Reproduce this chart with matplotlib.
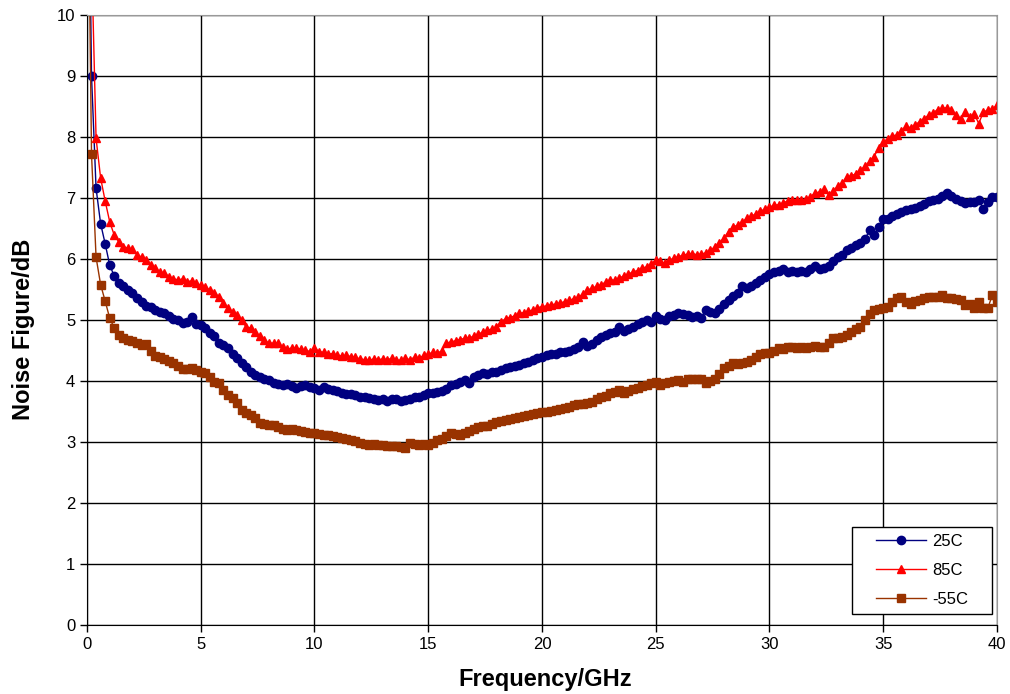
import numpy as np
import matplotlib.pyplot as plt
from matplotlib.patches import Rectangle

plt.rcParams['font.family'] = ['Liberation Sans', 'DejaVu Sans']

# frequency grid (GHz), one reading every 0.2 GHz
freq = np.round(np.arange(0, 40.01, 0.2), 1)

nf_25c = [
    15.0,
    9.00, 7.16, 6.58, 6.25, 5.90,
    5.72, 5.60, 5.55, 5.50, 5.44,
    5.36, 5.30, 5.23, 5.21, 5.16,
    5.13, 5.11, 5.07, 5.01, 5.00,
    4.95, 4.97, 5.05, 4.93, 4.92,
    4.87, 4.78, 4.73, 4.62, 4.59,
    4.54, 4.45, 4.37, 4.29, 4.23,
    4.15, 4.10, 4.07, 4.03, 4.02,
    3.97, 3.95, 3.93, 3.95, 3.92,
    3.88, 3.92, 3.93, 3.90, 3.88,
    3.86, 3.90, 3.87, 3.85, 3.83,
    3.81, 3.79, 3.78, 3.77, 3.74,
    3.74, 3.72, 3.71, 3.69, 3.70,
    3.68, 3.71, 3.70, 3.68, 3.69,
    3.71, 3.74, 3.74, 3.77, 3.80,
    3.80, 3.82, 3.83, 3.87, 3.93,
    3.95, 3.98, 4.02, 3.97, 4.07,
    4.10, 4.13, 4.12, 4.14, 4.15,
    4.18, 4.21, 4.23, 4.24, 4.26,
    4.29, 4.31, 4.34, 4.38, 4.40,
    4.42, 4.44, 4.45, 4.47, 4.48,
    4.49, 4.52, 4.55, 4.64, 4.58,
    4.60, 4.68, 4.72, 4.75, 4.78,
    4.80, 4.89, 4.82, 4.85, 4.89,
    4.93, 4.97, 5.00, 4.96, 5.06,
    5.01, 5.00, 5.06, 5.09, 5.11,
    5.10, 5.08, 5.05, 5.06, 5.04,
    5.16, 5.13, 5.11, 5.18, 5.27,
    5.33, 5.40, 5.45, 5.55, 5.52,
    5.56, 5.60, 5.65, 5.70, 5.75,
    5.78, 5.80, 5.84, 5.78, 5.80,
    5.79, 5.80, 5.79, 5.83, 5.89,
    5.83, 5.86, 5.89, 5.96, 6.03,
    6.07, 6.15, 6.18, 6.23, 6.27,
    6.33, 6.47, 6.40, 6.52, 6.65,
    6.66, 6.70, 6.73, 6.77, 6.81,
    6.82, 6.84, 6.87, 6.90, 6.95,
    6.97, 6.99, 7.03, 7.08, 7.04,
    6.98, 6.95, 6.92, 6.93, 6.94,
    6.97, 6.82, 6.93, 7.02, 7.02,
]

nf_85c = [
    16.0, 11.0,
    7.98, 7.33, 6.95, 6.61,
    6.39, 6.28, 6.20, 6.18, 6.16,
    6.07, 6.03, 5.98, 5.90, 5.85,
    5.79, 5.77, 5.71, 5.67, 5.66,
    5.67, 5.63, 5.64, 5.60, 5.57,
    5.54, 5.49, 5.44, 5.38, 5.28,
    5.20, 5.13, 5.08, 5.00, 4.88,
    4.87, 4.80, 4.73, 4.67, 4.62,
    4.62, 4.62, 4.56, 4.52, 4.54,
    4.54, 4.52, 4.51, 4.48, 4.54,
    4.48, 4.47, 4.44, 4.45, 4.42,
    4.41, 4.42, 4.40, 4.39, 4.36,
    4.35, 4.34, 4.36, 4.35, 4.36,
    4.35, 4.37, 4.34, 4.34, 4.37,
    4.35, 4.39, 4.37, 4.42, 4.44,
    4.47, 4.46, 4.49, 4.62, 4.64,
    4.66, 4.68, 4.70, 4.71, 4.73,
    4.77, 4.80, 4.83, 4.85, 4.89,
    4.97, 5.02, 5.04, 5.07, 5.11,
    5.12, 5.15, 5.16, 5.20, 5.22,
    5.23, 5.25, 5.26, 5.28, 5.30,
    5.32, 5.35, 5.37, 5.43, 5.49,
    5.52, 5.55, 5.58, 5.62, 5.66,
    5.65, 5.69, 5.72, 5.75, 5.79,
    5.81, 5.85, 5.87, 5.92, 5.98,
    5.96, 5.93, 5.98, 6.01, 6.04,
    6.06, 6.08, 6.09, 6.07, 6.08,
    6.10, 6.14, 6.20, 6.27, 6.34,
    6.45, 6.53, 6.55, 6.60, 6.67,
    6.70, 6.74, 6.78, 6.82, 6.85,
    6.88, 6.89, 6.92, 6.95, 6.97,
    6.97, 6.97, 6.98, 7.02, 7.08,
    7.10, 7.14, 7.05, 7.12, 7.19,
    7.24, 7.35, 7.36, 7.40, 7.46,
    7.52, 7.60, 7.68, 7.82, 7.92,
    7.97, 8.02, 8.03, 8.10, 8.18,
    8.15, 8.20, 8.25, 8.30, 8.36,
    8.40, 8.45, 8.47, 8.48, 8.44,
    8.36, 8.30, 8.41, 8.33, 8.38,
    8.22, 8.41, 8.44, 8.46, 8.52,
]

nf_m55c = [
    14.0,
    7.72, 6.03, 5.58, 5.31, 5.03,
    4.87, 4.75, 4.70, 4.67, 4.66,
    4.62, 4.59, 4.61, 4.50, 4.41,
    4.39, 4.36, 4.33, 4.29, 4.25,
    4.19, 4.19, 4.21, 4.18, 4.15,
    4.13, 4.07, 3.98, 3.97, 3.85,
    3.77, 3.72, 3.64, 3.52, 3.48,
    3.44, 3.39, 3.31, 3.30, 3.28,
    3.28, 3.25, 3.21, 3.20, 3.21,
    3.20, 3.18, 3.16, 3.15, 3.15,
    3.13, 3.12, 3.11, 3.10, 3.09,
    3.07, 3.05, 3.03, 3.01, 2.98,
    2.97, 2.95, 2.96, 2.95, 2.95,
    2.94, 2.93, 2.93, 2.91, 2.90,
    2.98, 2.97, 2.95, 2.96, 2.95,
    2.98, 3.03, 3.05, 3.10, 3.14,
    3.13, 3.12, 3.15, 3.18, 3.22,
    3.24, 3.26, 3.27, 3.30, 3.33,
    3.34, 3.36, 3.37, 3.39, 3.41,
    3.43, 3.45, 3.46, 3.48, 3.50,
    3.50, 3.51, 3.52, 3.54, 3.55,
    3.57, 3.60, 3.63, 3.62, 3.64,
    3.66, 3.70, 3.74, 3.76, 3.80,
    3.82, 3.85, 3.80, 3.84, 3.87,
    3.89, 3.91, 3.93, 3.96, 3.99,
    3.93, 3.96, 3.98, 4.00, 4.02,
    3.99, 4.03, 4.04, 4.04, 4.04,
    3.96, 4.00, 4.04, 4.12, 4.21,
    4.25, 4.29, 4.28, 4.30, 4.31,
    4.35, 4.40, 4.45, 4.46, 4.46,
    4.50, 4.54, 4.52, 4.55, 4.56,
    4.54, 4.55, 4.54, 4.56, 4.57,
    4.55, 4.56, 4.62, 4.70, 4.71,
    4.72, 4.76, 4.81, 4.85, 4.89,
    5.00, 5.10, 5.16, 5.18, 5.19,
    5.21, 5.30, 5.36, 5.38, 5.30,
    5.27, 5.31, 5.33, 5.36, 5.38,
    5.38, 5.37, 5.41, 5.36, 5.36,
    5.35, 5.32, 5.25, 5.26, 5.19,
    5.30, 5.19, 5.20, 5.41, 5.30,
]

fig = plt.figure(figsize=(10.1, 6.94), dpi=100)
ax = fig.add_axes([0.0861, 0.0994, 0.9010, 0.8790])

ax.plot(freq, nf_25c, color='#000080', marker='o', markersize=6, linewidth=1,
        label='25C')
ax.plot(freq, nf_85c, color='#ff0000', marker='^', markersize=6, linewidth=1,
        label='85C')
ax.plot(freq, nf_m55c, color='#993300', marker='s', markersize=5.5, linewidth=1,
        label='-55C')

ax.set_xlim(0, 40)
ax.set_ylim(0, 10)
ax.set_xticks(np.arange(0, 41, 5))
ax.set_yticks(np.arange(0, 11, 1))
ax.grid(True, color='black', linewidth=1)
ax.set_axisbelow(True)
ax.tick_params(direction='out', length=5, width=1, labelsize=12)

for side in ('top', 'right'):
    ax.spines[side].set_color('#999999')

ax.set_xlabel('Frequency/GHz', fontsize=17, fontweight='bold')
ax.set_ylabel('Noise Figure/dB', fontsize=17, fontweight='bold')
ax.xaxis.set_label_coords(0.504, -0.070)
ax.yaxis.set_label_coords(-0.057, 0.485)

# legend box drawn by hand (wider than tall padding, as in the original)
ax.add_patch(Rectangle((0.8407, 0.018), 0.1538, 0.1427, transform=ax.transAxes,
                       facecolor='white', edgecolor='black', linewidth=1,
                       zorder=4))
leg = ax.legend(loc='center', bbox_to_anchor=(0.9176, 0.0895), fontsize=12,
                frameon=False, handlelength=3.0, handletextpad=0.4,
                labelspacing=0.85)
leg.set_zorder(5)

fig.savefig('out.png', dpi=100)
